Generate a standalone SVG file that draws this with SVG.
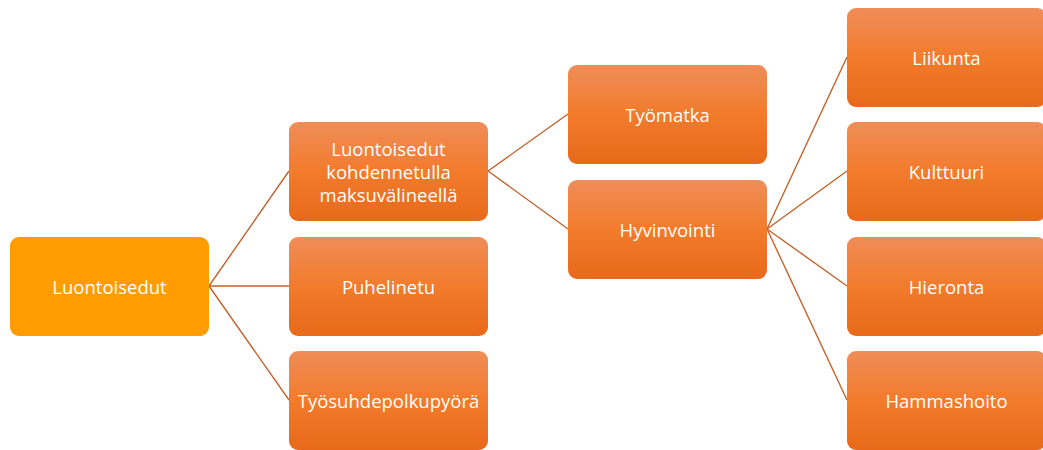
<svg xmlns="http://www.w3.org/2000/svg" width="1043" height="450" viewBox="0 0 1043 450">
<defs>
<linearGradient id="g" x1="0" y1="0" x2="0" y2="1">
<stop offset="0" stop-color="#F08D58"/>
<stop offset="0.5" stop-color="#F27B2C"/>
<stop offset="1" stop-color="#E8691A"/>
</linearGradient>
</defs>
<style>
.n{fill:url(#g)}
.r{fill:#FF9C00}
.t{fill:#FFFFFF;font-family:"Open Sans","Liberation Sans",sans-serif;font-size:18.5px;text-anchor:middle;dominant-baseline:central}
.c{stroke:#C2622C;stroke-width:1.4;fill:none}
</style>
<rect width="1043" height="450" fill="#FFFFFF"/>
<g id="connectors">
<line class="c" x1="209" y1="286" x2="289" y2="171"/>
<line class="c" x1="209" y1="286" x2="289" y2="286"/>
<line class="c" x1="209" y1="286" x2="289" y2="400"/>
<line class="c" x1="488" y1="171" x2="568" y2="114"/>
<line class="c" x1="488" y1="171" x2="568" y2="229"/>
<line class="c" x1="767" y1="229" x2="847" y2="57"/>
<line class="c" x1="767" y1="229" x2="847" y2="171"/>
<line class="c" x1="767" y1="229" x2="847" y2="286"/>
<line class="c" x1="767" y1="229" x2="847" y2="400"/>
</g>
<g id="root"><rect class="r" x="10" y="237" width="199" height="99" rx="9"/><text class="t" x="109.5" y="286">Luontoisedut</text></g>
<g id="n-kohdennettu"><rect class="n" x="289" y="122" width="199" height="99" rx="9"/><text class="t" x="388.5" y="148">Luontoisedut</text><text class="t" x="388.5" y="171">kohdennetulla</text><text class="t" x="388.5" y="194">maksuvälineellä</text></g>
<g id="n-puhelinetu"><rect class="n" x="289" y="237" width="199" height="99" rx="9"/><text class="t" x="388.5" y="286">Puhelinetu</text></g>
<g id="n-polkupyora"><rect class="n" x="289" y="351" width="199" height="99" rx="9"/><text class="t" x="388.5" y="400">Työsuhdepolkupyörä</text></g>
<g id="n-tyomatka"><rect class="n" x="568" y="65" width="199" height="99" rx="9"/><text class="t" x="667.5" y="114">Työmatka</text></g>
<g id="n-hyvinvointi"><rect class="n" x="568" y="180" width="199" height="99" rx="9"/><text class="t" x="667.5" y="229">Hyvinvointi</text></g>
<g id="n-liikunta"><rect class="n" x="847" y="8" width="199" height="99" rx="9"/><text class="t" x="946.5" y="57">Liikunta</text></g>
<g id="n-kulttuuri"><rect class="n" x="847" y="122" width="199" height="99" rx="9"/><text class="t" x="946.5" y="171">Kulttuuri</text></g>
<g id="n-hieronta"><rect class="n" x="847" y="237" width="199" height="99" rx="9"/><text class="t" x="946.5" y="286">Hieronta</text></g>
<g id="n-hammashoito"><rect class="n" x="847" y="351" width="199" height="99" rx="9"/><text class="t" x="946.5" y="400">Hammashoito</text></g>
</svg>
